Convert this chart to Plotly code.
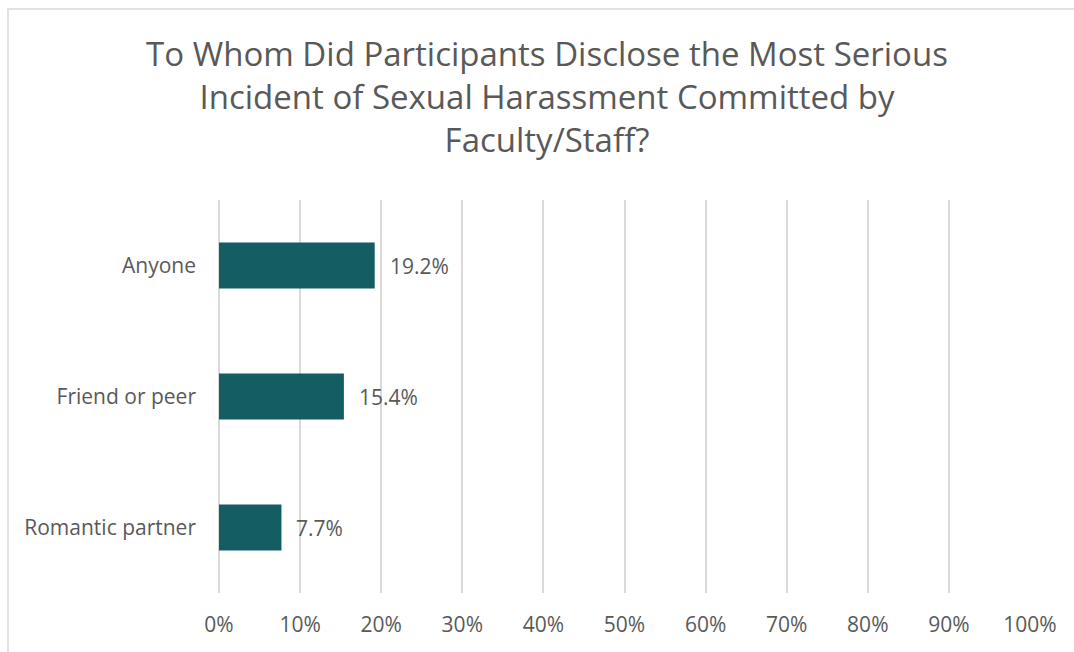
import plotly.graph_objects as go

categories = ["Anyone", "Friend or peer", "Romantic partner"]
values = [19.2, 15.4, 7.7]
labels = ["19.2%", "15.4%", "7.7%"]
tick_vals = [0, 10, 20, 30, 40, 50, 60, 70, 80, 90, 100]
tick_text = ["0%", "10%", "20%", "30%", "40%", "50%", "60%", "70%", "80%", "90%", "100%"]
title_text = ("To Whom Did Participants Disclose the Most Serious<br>"
              "Incident of Sexual Harassment Committed by<br>Faculty/Staff?")

FONT = "Open Sans"
GREY = "#595959"
BAR = "#145D63"
GRID = "#d9d9d9"

fig = go.Figure()
fig.add_trace(go.Bar(
    y=categories, x=values, orientation="h",
    marker=dict(color=BAR, line=dict(width=0)),
    width=0.35, hoverinfo="skip",
))

for c, v, t in zip(categories, values, labels):
    fig.add_annotation(x=v, y=c, text=t, showarrow=False, xanchor="left",
                       xshift=13, font=dict(family=FONT, size=21, color=GREY))

L, R, T, B = 219, 44, 200, 59
W, H = 1074, 652
pw, ph = W - L - R, H - T - B
fig.add_shape(type="rect", xref="paper", yref="paper",
              x0=(8 - L) / pw, x1=(W + 20 - L) / pw,
              y0=(H - B - (H + 20)) / ph, y1=(H - B - 9) / ph,
              line=dict(color=GRID, width=1.5), fillcolor="rgba(0,0,0,0)", layer="below")

fig.update_layout(
    width=W, height=H,
    margin=dict(l=L, r=R, t=T, b=B),
    paper_bgcolor="white", plot_bgcolor="white",
    showlegend=False,
    title=dict(text=title_text, x=547 / W, xref="container", xanchor="center",
               y=1 - 66 / H, yref="container", yanchor="top",
               font=dict(family=FONT, size=33, color=GREY)),
    xaxis=dict(range=[0, 100], tickvals=tick_vals, ticktext=tick_text,
               showgrid=True, gridcolor=GRID, gridwidth=1.5,
               zeroline=True, zerolinecolor=GRID, zerolinewidth=1.5,
               showline=False, ticks="",
               tickfont=dict(family=FONT, size=21, color=GREY), ticklabelstandoff=17),
    yaxis=dict(categoryorder="array", categoryarray=categories[::-1],
               showgrid=False, zeroline=False, showline=False, ticks="",
               tickfont=dict(family=FONT, size=21, color=GREY), ticklabelstandoff=22),
)

fig.write_html("out.html", config={"displayModeBar": False},
               post_script="document.body.style.margin='0';")
